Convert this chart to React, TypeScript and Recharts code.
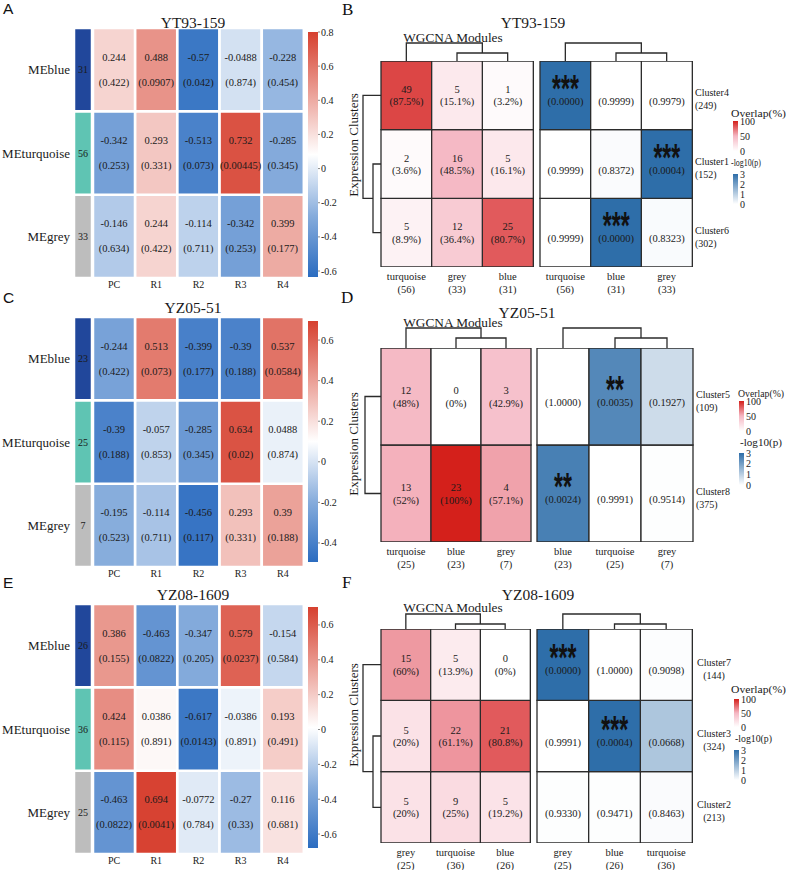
import React from 'react';
import { BarChart, Bar, XAxis, YAxis, Cell, LabelList } from 'recharts';

const SERIF = "'Liberation Serif', 'Times New Roman', serif";
const SANS = "'Liberation Sans', Arial, sans-serif";
const INK = '#1a1a1a';
const W = 787;
const H = 870;
const NO_MARGIN = { top: 0, right: 0, bottom: 0, left: 0 };

// ---- module eigengene / sample correlation (A, C, E) ----
const MODULES = ['MEblue', 'MEturquoise', 'MEgrey'];
const MODULE_COLORS = ['#21479b', '#5fc4b3', '#bdbdbd'];
const SAMPLES = ['PC', 'R1', 'R2', 'R3', 'R4'];

const sizesA = [31, 56, 33];
const corrA = [
  [0.244, 0.488, -0.57, -0.0488, -0.228],
  [-0.342, 0.293, -0.513, 0.732, -0.285],
  [-0.146, 0.244, -0.114, -0.342, 0.399],
];
const pA = [
  [0.422, 0.0907, 0.042, 0.874, 0.454],
  [0.253, 0.331, 0.073, 0.00445, 0.345],
  [0.634, 0.422, 0.711, 0.253, 0.177],
];
const rangeA = [-0.635, 0.8];
const ticksA = [-0.6, -0.4, -0.2, 0, 0.2, 0.4, 0.6, 0.8];

const sizesC = [23, 25, 7];
const corrC = [
  [-0.244, 0.513, -0.399, -0.39, 0.537],
  [-0.39, -0.057, -0.285, 0.634, 0.0488],
  [-0.195, -0.114, -0.456, 0.293, 0.39],
];
const pC = [
  [0.422, 0.073, 0.177, 0.188, 0.0584],
  [0.188, 0.853, 0.345, 0.02, 0.874],
  [0.523, 0.711, 0.117, 0.331, 0.188],
];
const rangeC = [-0.494, 0.694];
const ticksC = [-0.4, -0.2, 0, 0.2, 0.4, 0.6];

const sizesE = [26, 36, 25];
const corrE = [
  [0.386, -0.463, -0.347, 0.579, -0.154],
  [0.424, 0.0386, -0.617, -0.0386, 0.193],
  [-0.463, 0.694, -0.0772, -0.27, 0.116],
];
const pE = [
  [0.155, 0.0822, 0.205, 0.0237, 0.584],
  [0.115, 0.891, 0.0143, 0.891, 0.491],
  [0.0822, 0.0041, 0.784, 0.33, 0.681],
];
const rangeE = [-0.68, 0.703];
const ticksE = [-0.6, -0.4, -0.2, 0, 0.2, 0.4, 0.6];

// ---- expression cluster / module overlap (B, D, F) ----
const clustersB = ['Cluster4', 'Cluster1', 'Cluster6'];
const clusterSizesB = [249, 152, 302];
const modsB = ['turquoise', 'grey', 'blue'];
const modSizesB = [56, 33, 31];
const countsB = [[49, 5, 1], [2, 16, 5], [5, 12, 25]];
const pctB = [[87.5, 15.1, 3.2], [3.6, 48.5, 16.1], [8.9, 36.4, 80.7]];
const testModsB = ['turquoise', 'blue', 'grey'];
const testSizesB = [56, 31, 33];
const pvalB = [[0, 0.9999, 0.9979], [0.9999, 0.8372, 0.0004], [0.9999, 0, 0.8323]];
const starsB = [['***', '', ''], ['', '', '***'], ['', '***', '']];

const clustersD = ['Cluster5', 'Cluster8'];
const clusterSizesD = [109, 375];
const modsD = ['turquoise', 'blue', 'grey'];
const modSizesD = [25, 23, 7];
const countsD = [[12, 0, 3], [13, 23, 4]];
const pctD = [[48, 0, 42.9], [52, 100, 57.1]];
const testModsD = ['blue', 'turquoise', 'grey'];
const testSizesD = [23, 25, 7];
const pvalD = [[1, 0.0035, 0.1927], [0.0024, 0.9991, 0.9514]];
const starsD = [['', '**', ''], ['**', '', '']];

const clustersF = ['Cluster7', 'Cluster3', 'Cluster2'];
const clusterSizesF = [144, 324, 213];
const modsF = ['grey', 'turquoise', 'blue'];
const modSizesF = [25, 36, 26];
const countsF = [[15, 5, 0], [5, 22, 21], [5, 9, 5]];
const pctF = [[60, 13.9, 0], [20, 61.1, 80.8], [20, 25, 19.2]];
const testModsF = ['grey', 'blue', 'turquoise'];
const testSizesF = [25, 26, 36];
const pvalF = [[0, 1, 0.9098], [0.9991, 0.0004, 0.0668], [0.933, 0.9471, 0.8463]];
const starsF = [['***', '', ''], ['', '***', ''], ['', '', '']];

const OVERLAP_TICKS = [0, 50, 100];
const LOGP_TICKS = [0, 1, 2, 3];

// ---- colour ramps ----
const CORR_STOPS = ['#2b6cc0', '#86acdc', '#ffffff', '#eba097', '#d6402f'];
const OVERLAP_STOPS = ['#ffffff', '#f5b7c3', '#d4201b'];
const LOGP_STOPS = ['#ffffff', '#2e6ea9'];

const hex = (c: string) => [1, 3, 5].map((i) => parseInt(c.slice(i, i + 2), 16));
const mix = (a: string, b: string, t: number) => {
  const A = hex(a);
  const B = hex(b);
  return '#' + A.map((v, i) => Math.round(v + (B[i] - v) * t).toString(16).padStart(2, '0')).join('');
};
const ramp = (stops: string[], t: number) => {
  const n = stops.length - 1;
  const k = Math.max(0, Math.min(1, t)) * n;
  const i = Math.min(n - 1, Math.floor(k));
  return mix(stops[i], stops[i + 1], k - i);
};
const corrColor = (v: number, lo: number, hi: number) => ramp(CORR_STOPS, (v - lo) / (hi - lo));
const overlapColor = (pct: number) => ramp(OVERLAP_STOPS, pct / 100);
const logpColor = (p: number) => ramp(LOGP_STOPS, (p > 0 ? Math.min(3, -Math.log10(p)) : 3) / 3);

const CORR_SPECS = [
  { key: 'A', title: 'YT93-159', top: 0, titleY: 22, sizes: sizesA, corr: corrA, pval: pA, range: rangeA, ticks: ticksA, barTop: 32, barH: 245 },
  { key: 'C', title: 'YZ05-51', top: 289, titleY: 18, sizes: sizesC, corr: corrC, pval: pC, range: rangeC, ticks: ticksC, barTop: 32, barH: 241 },
  { key: 'E', title: 'YZ08-1609', top: 576, titleY: 18, sizes: sizesE, corr: corrE, pval: pE, range: rangeE, ticks: ticksE, barTop: 31, barH: 241 },
];

const OVERLAP_SPECS = [
  {
    key: 'B', title: 'YT93-159', titleX: 533, titleY: 22, modY: 37, top: 61, bottom: 267,
    L: [381, 533], R: [540, 692], outerY: 43, innerY: 53, rowOuter: 363, rowInner: 373, ecY: 145,
    clusters: clustersB, clusterSizes: clusterSizesB, mods: modsB, modSizes: modSizesB, counts: countsB, pct: pctB,
    testMods: testModsB, testSizes: testSizesB, pval: pvalB, stars: starsB, centerClusters: false,
    lg: { x: 733, t1x: 731, t1y: 113, t1w: 55, redTop: 121, redH: 30, t2x: 731, t2y: 162, t2w: 30, blueTop: 174, blueH: 30 },
  },
  {
    key: 'D', title: 'YZ05-51', titleX: 527, titleY: 312, modY: 322, top: 348, bottom: 542,
    L: [381, 531], R: [537, 693], outerY: 328, innerY: 338, rowOuter: 365, rowInner: 365, ecY: 444,
    clusters: clustersD, clusterSizes: clusterSizesD, mods: modsD, modSizes: modSizesD, counts: countsD, pct: pctD,
    testMods: testModsD, testSizes: testSizesD, pval: pvalD, stars: starsD, centerClusters: false,
    lg: { x: 739, t1x: 738, t1y: 393, t1w: 46, redTop: 401, redH: 30, t2x: 740, t2y: 442, t2w: 42, blueTop: 453, blueH: 32 },
  },
  {
    key: 'F', title: 'YZ08-1609', titleX: 538, titleY: 594, modY: 607, top: 629, bottom: 843,
    L: [381, 530], R: [537, 692], outerY: 614, innerY: 624, rowOuter: 363, rowInner: 373, ecY: 715,
    clusters: clustersF, clusterSizes: clusterSizesF, mods: modsF, modSizes: modSizesF, counts: countsF, pct: pctF,
    testMods: testModsF, testSizes: testSizesF, pval: pvalF, stars: starsF, centerClusters: true,
    lg: { x: 734, t1x: 731, t1y: 689, t1w: 55, redTop: 699, redH: 28, t2x: 735, t2y: 738, t2w: 37, blueTop: 750, blueH: 30 },
  },
];

// centre of a label's bar rectangle
const centre = (p: any) => {
  const vb = p.viewBox && p.viewBox.width !== undefined ? p.viewBox : p;
  return { cx: vb.x + vb.width / 2, cy: vb.y + vb.height / 2 };
};

const CorrLabel = (p: any) => {
  const { cx, cy } = centre(p);
  const [a, b] = String(p.value).split('|');
  return (
    <g fontFamily={SERIF} fontSize={10.5} fill={INK}>
      <text x={cx} y={cy - 12.5} textAnchor="middle" dominantBaseline="central">{a}</text>
      <text x={cx} y={cy + 12.5} textAnchor="middle" dominantBaseline="central">{b}</text>
    </g>
  );
};

const CountLabel = (p: any) => {
  const { cx, cy } = centre(p);
  const [a, b] = String(p.value).split('|');
  return (
    <g fontFamily={SERIF} fontSize={10.5} fill={INK}>
      <text x={cx} y={cy - 6} textAnchor="middle" dominantBaseline="central">{a}</text>
      <text x={cx} y={cy + 6.5} textAnchor="middle" dominantBaseline="central">{b}</text>
    </g>
  );
};

const PLabel = (p: any) => {
  const { cx, cy } = centre(p);
  const [stars, b] = String(p.value).split('|');
  return (
    <g fontFamily={SERIF} fill={INK}>
      {stars ? (
        <text
          transform={`translate(${cx} ${cy + 6.5}) scale(1 1.7)`}
          textAnchor="middle"
          fontFamily={SANS}
          fontWeight="bold"
          fontSize={23}
          fill="#111"
        >
          {stars}
        </text>
      ) : null}
      <text x={cx} y={cy + 6} textAnchor="middle" dominantBaseline="central" fontSize={10.5}>{b}</text>
    </g>
  );
};

function CorrPanel({ s }: { s: any }) {
  const n = MODULES.length;
  const order = MODULES.map((_, i) => n - 1 - i); // first bar is stacked at the bottom
  const [lo, hi] = s.range;
  const rows = SAMPLES.map((name, j) => {
    const r: Record<string, any> = { col: name };
    MODULES.forEach((_, i) => {
      r[`r${i}`] = 1;
      r[`t${i}`] = `${s.corr[i][j]}|(${s.pval[i][j]})`;
    });
    return r;
  });
  const strip: Record<string, any> = { col: 'module' };
  MODULES.forEach((_, i) => {
    strip[`r${i}`] = 1;
    strip[`n${i}`] = s.sizes[i];
  });
  const rowTicks = MODULES.map((_, i) => i + 0.5);
  const rowName = (v: number) => MODULES[n - 1 - Math.floor(v)];

  return (
    <>
      <div style={{ position: 'absolute', left: 0, top: s.top + 28 }}>
        <BarChart width={92} height={250} data={[strip]} margin={NO_MARGIN} barCategoryGap={0}>
          <XAxis dataKey="col" hide />
          <YAxis
            type="number"
            domain={[0, n]}
            allowDataOverflow
            ticks={rowTicks}
            interval={0}
            width={74}
            axisLine={false}
            tickLine={false}
            tickSize={0}
            tickMargin={4}
            tickFormatter={rowName}
            tick={{ fontSize: 13, fill: INK, fontFamily: SERIF }}
          />
          {order.map((i) => (
            <Bar key={i} dataKey={`r${i}`} stackId="m" fill={MODULE_COLORS[i]} stroke="#fff" strokeWidth={2.5} isAnimationActive={false}>
              <LabelList dataKey={`n${i}`} position="center" fill={INK} fontSize={10} fontFamily={SERIF} />
            </Bar>
          ))}
        </BarChart>
      </div>
      <div style={{ position: 'absolute', left: 93, top: s.top + 28 }}>
        <BarChart width={211} height={272} data={rows} margin={NO_MARGIN} barCategoryGap={0} barGap={0}>
          <XAxis
            dataKey="col"
            type="category"
            height={22}
            axisLine={false}
            tickLine={false}
            tickSize={0}
            tickMargin={3}
            interval={0}
            tick={{ fontSize: 10, fill: INK, fontFamily: SERIF }}
          />
          <YAxis hide type="number" domain={[0, n]} allowDataOverflow />
          {order.map((i) => (
            <Bar key={i} dataKey={`r${i}`} stackId="g" stroke="#fff" strokeWidth={2.5} isAnimationActive={false}>
              {SAMPLES.map((_, j) => (
                <Cell key={j} fill={corrColor(s.corr[i][j], lo, hi)} />
              ))}
              <LabelList dataKey={`t${i}`} content={CorrLabel} />
            </Bar>
          ))}
        </BarChart>
      </div>
      <div style={{ position: 'absolute', left: 308, top: s.top + s.barTop }}>
        <BarChart width={40} height={s.barH} data={[{ col: 'scale', span: [lo, hi] }]} margin={NO_MARGIN} barCategoryGap={0}>
          <XAxis dataKey="col" hide />
          <YAxis
            orientation="right"
            type="number"
            domain={[lo, hi]}
            allowDataOverflow
            ticks={s.ticks}
            interval={0}
            width={30}
            axisLine={false}
            tickSize={2}
            tickMargin={1}
            tickLine={{ stroke: '#888' }}
            tickFormatter={(v: number) => String(v)}
            tick={{ fontSize: 10, fill: INK, fontFamily: SERIF }}
          />
          <Bar dataKey="span" fill="url(#gCorr)" isAnimationActive={false} />
        </BarChart>
      </div>
    </>
  );
}

function Legend({ lg }: { lg: any }) {
  return (
    <>
      <div style={{ position: 'absolute', left: lg.x, top: lg.redTop }}>
        <BarChart width={32} height={lg.redH} data={[{ col: 'o', span: [0, 100] }]} margin={NO_MARGIN} barCategoryGap={0}>
          <XAxis dataKey="col" hide />
          <YAxis
            orientation="right"
            type="number"
            domain={[0, 100]}
            allowDataOverflow
            ticks={OVERLAP_TICKS}
            interval={0}
            width={27}
            axisLine={false}
            tickSize={1}
            tickMargin={1}
            tickLine={{ stroke: '#fff' }}
            tick={{ fontSize: 10, fill: INK, fontFamily: SERIF }}
          />
          <Bar dataKey="span" fill="url(#gOverlap)" isAnimationActive={false} />
        </BarChart>
      </div>
      <div style={{ position: 'absolute', left: lg.x, top: lg.blueTop }}>
        <BarChart width={32} height={lg.blueH} data={[{ col: 'p', span: [0, 3] }]} margin={NO_MARGIN} barCategoryGap={0}>
          <XAxis dataKey="col" hide />
          <YAxis
            orientation="right"
            type="number"
            domain={[0, 3]}
            allowDataOverflow
            ticks={LOGP_TICKS}
            interval={0}
            width={27}
            axisLine={false}
            tickSize={1}
            tickMargin={1}
            tickLine={{ stroke: '#fff' }}
            tick={{ fontSize: 10, fill: INK, fontFamily: SERIF }}
          />
          <Bar dataKey="span" fill="url(#gLogp)" isAnimationActive={false} />
        </BarChart>
      </div>
    </>
  );
}

function OverlapPanel({ s }: { s: any }) {
  const n = s.clusters.length;
  const order = s.clusters.map((_: string, i: number) => n - 1 - i);
  const h = s.bottom - s.top;
  const left = s.mods.map((m: string, j: number) => {
    const r: Record<string, any> = { col: m };
    s.clusters.forEach((_: string, i: number) => {
      r[`r${i}`] = 1;
      r[`t${i}`] = `${s.counts[i][j]}|(${s.pct[i][j]}%)`;
    });
    return r;
  });
  const right = s.testMods.map((m: string, j: number) => {
    const r: Record<string, any> = { col: m };
    s.clusters.forEach((_: string, i: number) => {
      r[`r${i}`] = 1;
      r[`t${i}`] = `${s.stars[i][j]}|(${s.pval[i][j].toFixed(4)})`;
    });
    return r;
  });
  const rowTicks = s.clusters.map((_: string, i: number) => i + 0.5);

  const modTick = (names: string[], sizes: number[]) => (p: any) => {
    const j = names.indexOf(p.payload.value);
    return (
      <g fontFamily={SERIF} fontSize={10.5} fill={INK}>
        <text x={p.x} y={p.y + 9} textAnchor="middle" dominantBaseline="central">{names[j]}</text>
        <text x={p.x} y={p.y + 22.5} textAnchor="middle" dominantBaseline="central">({sizes[j]})</text>
      </g>
    );
  };

  const ClusterTick = (p: any) => {
    const i = n - 1 - Math.floor(p.payload.value);
    const x = s.centerClusters ? p.x + 17 : p.x;
    const anchor = s.centerClusters ? 'middle' : 'start';
    return (
      <g fontFamily={SERIF} fontSize={10} fill={INK}>
        <text x={x} y={p.y - 2.5} textAnchor={anchor} dominantBaseline="central">{s.clusters[i]}</text>
        <text x={x} y={p.y + 10.5} textAnchor={anchor} dominantBaseline="central">({s.clusterSizes[i]})</text>
      </g>
    );
  };

  const cellStroke = { stroke: '#2b2b2b', strokeWidth: 1.3 };

  return (
    <>
      <div style={{ position: 'absolute', left: s.L[0], top: s.top }}>
        <BarChart width={s.L[1] - s.L[0]} height={h + 34} data={left} margin={NO_MARGIN} barCategoryGap={0} barGap={0}>
          <XAxis
            dataKey="col"
            type="category"
            height={34}
            axisLine={false}
            tickLine={false}
            tickSize={0}
            tickMargin={0}
            interval={0}
            tick={modTick(s.mods, s.modSizes)}
          />
          <YAxis hide type="number" domain={[0, n]} allowDataOverflow />
          {order.map((i: number) => (
            <Bar key={i} dataKey={`r${i}`} stackId="o" {...cellStroke} isAnimationActive={false}>
              {s.mods.map((_: string, j: number) => (
                <Cell key={j} fill={overlapColor(s.pct[i][j])} />
              ))}
              <LabelList dataKey={`t${i}`} content={CountLabel} />
            </Bar>
          ))}
        </BarChart>
      </div>
      <div style={{ position: 'absolute', left: s.R[0], top: s.top }}>
        <BarChart width={s.R[1] - s.R[0] + 60} height={h + 34} data={right} margin={NO_MARGIN} barCategoryGap={0} barGap={0}>
          <XAxis
            dataKey="col"
            type="category"
            height={34}
            axisLine={false}
            tickLine={false}
            tickSize={0}
            tickMargin={0}
            interval={0}
            tick={modTick(s.testMods, s.testSizes)}
          />
          <YAxis
            orientation="right"
            type="number"
            domain={[0, n]}
            allowDataOverflow
            ticks={rowTicks}
            interval={0}
            width={60}
            axisLine={false}
            tickLine={false}
            tickSize={0}
            tickMargin={s.centerClusters ? 5 : 3}
            tick={ClusterTick}
          />
          {order.map((i: number) => (
            <Bar key={i} dataKey={`r${i}`} stackId="p" {...cellStroke} isAnimationActive={false}>
              {s.testMods.map((_: string, j: number) => (
                <Cell key={j} fill={logpColor(s.pval[i][j])} />
              ))}
              <LabelList dataKey={`t${i}`} content={PLabel} />
            </Bar>
          ))}
        </BarChart>
      </div>
      <Legend lg={s.lg} />
    </>
  );
}

// dendrogram with topology (0, (1, 2)) over the columns
const colTree = (x0: number, x1: number, top: number, outer: number, inner: number) => {
  const w = (x1 - x0) / 3;
  const c = (j: number) => x0 + w * (j + 0.5);
  const m = (c(1) + c(2)) / 2;
  return `M${c(0)},${top}V${outer}H${m}V${inner}M${c(1)},${top}V${inner}H${c(2)}V${top}`;
};

// dendrogram along the rows: (0, 1) or (0, (1, 2))
const rowTree = (n: number, top: number, bottom: number, left: number, outer: number, inner: number) => {
  const h = (bottom - top) / n;
  const r = (i: number) => top + h * (i + 0.5);
  if (n === 2) return `M${left},${r(0)}H${outer}V${r(1)}H${left}`;
  const m = (r(1) + r(2)) / 2;
  return `M${left},${r(0)}H${outer}V${m}H${inner}M${left},${r(1)}H${inner}V${r(2)}H${left}`;
};

function OverlapDecor({ s }: { s: any }) {
  const n = s.clusters.length;
  return (
    <g fontFamily={SERIF} fill={INK}>
      <text x={s.titleX} y={s.titleY} textAnchor="middle" dominantBaseline="central" fontSize={15.5}>{s.title}</text>
      <text x={453} y={s.modY} textAnchor="middle" dominantBaseline="central" fontSize={13.3}>WGCNA Modules</text>
      <text transform={`translate(353 ${s.ecY}) rotate(-90)`} textAnchor="middle" dominantBaseline="central" fontSize={13}>
        Expression Clusters
      </text>
      <g fill="none" stroke="#2b2b2b" strokeWidth={1.3}>
        <path d={colTree(s.L[0], s.L[1], s.top, s.outerY, s.innerY)} />
        <path d={colTree(s.R[0], s.R[1], s.top, s.outerY, s.innerY)} />
        <path d={rowTree(n, s.top, s.bottom, s.L[0], s.rowOuter, s.rowInner)} />
      </g>
      <text x={s.lg.t1x} y={s.lg.t1y} dominantBaseline="central" fontSize={10.5} textLength={s.lg.t1w} lengthAdjust="spacingAndGlyphs">
        Overlap(%)
      </text>
      <text x={s.lg.t2x} y={s.lg.t2y} dominantBaseline="central" fontSize={10.5} textLength={s.lg.t2w} lengthAdjust="spacingAndGlyphs">
        -log10(p)
      </text>
    </g>
  );
}

const gradient = (id: string, stops: string[]) => (
  <linearGradient id={id} x1="0" y1="1" x2="0" y2="0">
    {stops.map((c, i) => (
      <stop key={i} offset={i / (stops.length - 1)} stopColor={c} />
    ))}
  </linearGradient>
);

const LETTERS = [
  { t: 'A', x: 3, y: 14, font: SANS, size: 15.5 },
  { t: 'C', x: 3, y: 303, font: SANS, size: 15.5 },
  { t: 'E', x: 3, y: 588, font: SANS, size: 15.5 },
  { t: 'B', x: 342, y: 15, font: SERIF, size: 17 },
  { t: 'D', x: 341, y: 303, font: SERIF, size: 17 },
  { t: 'F', x: 342, y: 588, font: SERIF, size: 17 },
];

export default function App() {
  return (
    <div style={{ position: 'absolute', left: 0, top: 0, width: W, height: H, background: '#fff', overflow: 'hidden' }}>
      <style>{'.recharts-surface{overflow:visible}'}</style>
      <svg width={0} height={0} style={{ position: 'absolute' }}>
        <defs>
          {gradient('gCorr', CORR_STOPS)}
          {gradient('gOverlap', OVERLAP_STOPS)}
          {gradient('gLogp', LOGP_STOPS)}
        </defs>
      </svg>
      {CORR_SPECS.map((s) => (
        <CorrPanel key={s.key} s={s} />
      ))}
      {OVERLAP_SPECS.map((s) => (
        <OverlapPanel key={s.key} s={s} />
      ))}
      <svg width={W} height={H} style={{ position: 'absolute', left: 0, top: 0, pointerEvents: 'none' }}>
        {LETTERS.map((l) => (
          <text key={l.t} x={l.x} y={l.y} fontFamily={l.font} fontSize={l.size} fill="#111">
            {l.t}
          </text>
        ))}
        {CORR_SPECS.map((s) => (
          <text key={s.key} x={193} y={s.top + s.titleY} textAnchor="middle" dominantBaseline="central" fontFamily={SERIF} fontSize={15.5} fill={INK}>
            {s.title}
          </text>
        ))}
        {OVERLAP_SPECS.map((s) => (
          <OverlapDecor key={s.key} s={s} />
        ))}
      </svg>
    </div>
  );
}
